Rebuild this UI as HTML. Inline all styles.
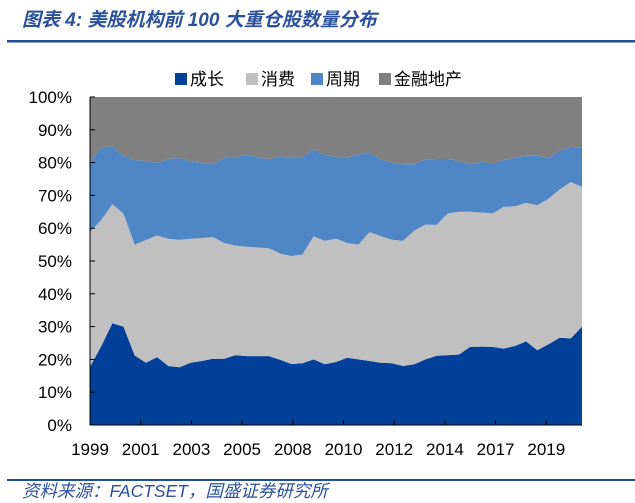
<!DOCTYPE html>
<html><head><meta charset="utf-8">
<style>
body{margin:0;background:#fff;width:635px;height:503px;overflow:hidden;font-family:"Liberation Sans","Noto Sans CJK SC",sans-serif;}
svg{display:block}
</style></head>
<body>
<svg id="chart" width="635" height="503">
  <text x="22" y="26" font-size="19" font-weight="bold" font-style="italic" fill="#2b519c" font-family="Liberation Sans, Noto Sans CJK SC, sans-serif">图表 4:  美股机构前 100 大重仓股数量分布</text>
  <rect x="7" y="40" width="628" height="2.5" fill="#1f4e9a"/>
  <g id="legend"></g>
  <g id="plot"></g>
  <g id="axes"></g>
  <rect x="7" y="479" width="628" height="2" fill="#1f4e9a"/>
  <text x="22" y="497" font-size="17.5" font-style="italic" fill="#2b519c">资料来源：FACTSET，国盛证券研究所</text>
</svg>
<script>
const seriesNames = ["成长","消费","周期","金融地产"];
const seriesColors = ["#023f98","#c0c0c0","#4f86c6","#808080"];
const growth = [17.7,24,31,30,21.2,19,20.7,18,17.6,19,19.5,20.2,20.2,21.3,21,21,21,19.9,18.6,18.8,20,18.5,19.2,20.5,20,19.5,19,18.8,18,18.5,20,21.1,21.3,21.5,23.8,23.9,23.8,23.3,24.1,25.5,22.8,24.6,26.6,26.4,30];
const consumer = [41.2,38.5,36.3,34.4,33.8,37.4,37.1,38.8,38.9,37.8,37.5,37.1,35.3,33.4,33.4,33.1,32.9,32.4,32.9,33.2,37.5,37.7,37.6,35,35,39.3,38.6,37.7,38.2,40.8,41.1,39.9,43.2,43.5,41.2,40.9,40.7,43.2,42.6,42.2,44.2,44.4,45.2,47.7,42.6];
const cyclical = [21.4,22.2,17.7,17.6,25.8,24.1,22.1,24.2,25,23.5,23,22.2,26,26.9,28.2,27.5,27.1,29.6,29.9,29.8,26.5,26.1,25,26,27.5,24.2,23.4,23.5,23.3,20.2,19.9,20.1,16.6,15.5,14.5,15.5,15.2,14.3,14.8,14.4,15.1,12.3,11.8,10.7,12];
const finance = [19.7,15.3,15,18,19.2,19.5,20.1,19,18.5,19.7,20,20.5,18.5,18.4,17.4,18.4,19,18.1,18.6,18.2,16,17.7,18.2,18.5,17.5,17,19,20,20.5,20.5,19,18.9,18.9,19.5,20.5,19.7,20.3,19.2,18.5,17.9,17.9,18.7,16.4,15.2,15.4];
const xTickLabels = ["1999","2001","2003","2005","2008","2010","2012","2014","2017","2019"];
const yTickLabels = ["0%","10%","20%","30%","40%","50%","60%","70%","80%","90%","100%"];

const NS="http://www.w3.org/2000/svg";
const L=90,R=582,T=97,B=425;
const n=growth.length;
const xs=i=>L+i*(R-L)/(n-1);
const ys=v=>B-(v/100)*(B-T);
function mk(tag,attrs,parent){const e=document.createElementNS(NS,tag);for(const k in attrs)e.setAttribute(k,attrs[k]);parent.appendChild(e);return e;}
const plot=document.getElementById('plot');
const all=[growth,consumer,cyclical,finance];
let base=new Array(n).fill(0);
all.forEach((s,si)=>{
  const top=base.map((b,i)=>b+s[i]);
  let d="";
  for(let i=0;i<n;i++)d+=(i?"L":"M")+xs(i).toFixed(1)+","+ys(top[i]).toFixed(1);
  for(let i=n-1;i>=0;i--)d+="L"+xs(i).toFixed(1)+","+ys(base[i]).toFixed(1);
  const p=mk('path',{d:d+"Z",fill:seriesColors[si]},plot);
  
  
  base=top;
});
const axes=document.getElementById('axes');
mk('line',{x1:L,y1:T,x2:L,y2:B,stroke:"#000","stroke-width":1},axes);
mk('line',{x1:L,y1:B,x2:R,y2:B,stroke:"#000","stroke-width":1},axes);
yTickLabels.forEach((lab,k)=>{
  const y=ys(k*10);
  mk('line',{x1:L,y1:y,x2:L+5,y2:y,stroke:"#000"},axes);
  const t=mk('text',{x:72,y:y+6,"font-size":17,"text-anchor":"end",fill:"#000"},axes);
  t.textContent=lab;
  
  
});
const step=50.7;
xTickLabels.forEach((lab,k)=>{
  const x=L+k*step;
  mk('line',{x1:x,y1:B,x2:x,y2:B-5,stroke:"#000"},axes);
  const t=mk('text',{x:x,y:455,"font-size":17,"text-anchor":"middle",fill:"#000"},axes);
  t.textContent=lab;
  
  
});
const lg=document.getElementById('legend');
const lx=[175,246,311,379];
seriesNames.forEach((nm,i)=>{
  mk('rect',{x:lx[i],y:73,width:12,height:12,fill:seriesColors[i]},lg);
  const t=mk('text',{x:lx[i]+15,y:85,"font-size":17,fill:"#000"},lg);
  t.textContent=nm;
  
  
});
</script>
</body></html>
